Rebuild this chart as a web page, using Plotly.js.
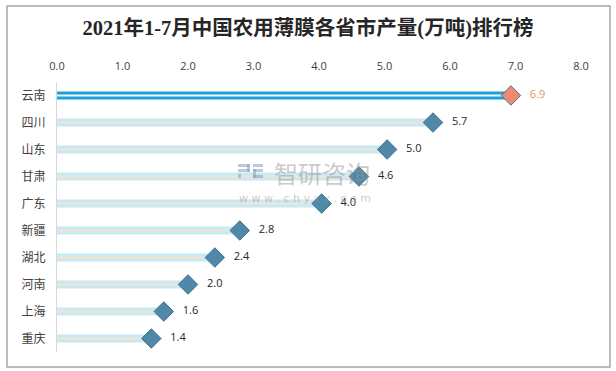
<!DOCTYPE html>
<html><head><meta charset="utf-8">
<script src="https://cdn.plot.ly/plotly-3.0.1.min.js"></script>
<style>body{margin:0;background:#fff}#c{width:616px;height:371px}</style>
</head><body><div id="c"></div>
<script>
const provinces = ["云南","四川","山东","甘肃","广东","新疆","湖北","河南","上海","重庆"];
const output = [6.93, 5.74, 5.04, 4.61, 4.04, 2.79, 2.41, 2.0, 1.63, 1.44];
const xTicks = [0,1,2,3,4,5,6,7,8];
const xTickText = xTicks.map(v => v.toFixed(1));

const bandColors = provinces.map((p,i) => i === 0 ? "#1ba1dc" : "#c6e9f8");
const centerColors = provinces.map((p,i) => i === 0 ? "#f4f8fb" : "#fbe3c6");
const markerColors = provinces.map((p,i) => i === 0 ? "#f0896f" : "#4f89a7");
const labelColors = provinces.map((p,i) => i === 0 ? "#f0896f" : "#262626");

const traces = [
  {type:"bar", orientation:"h", y:provinces, x:output, width:0.29,
   marker:{color:bandColors, line:{width:0}}, hoverinfo:"skip", showlegend:false},
  {type:"bar", orientation:"h", y:provinces, x:output, width:0.08,
   marker:{color:centerColors, line:{width:0}}, hoverinfo:"skip", showlegend:false},
  {type:"scatter", mode:"markers+text", y:provinces, x:output,
   marker:{symbol:"diamond", size:15, color:markerColors, line:{color:"#3d7391", width:1}},
   text:output.map(v => v.toFixed(1)), textposition:"middle right",
   texttemplate:"   %{text}",
   textfont:{family:"Open Sans, DejaVu Sans, sans-serif", size:11, color:labelColors},
   cliponaxis:false, showlegend:false}
];

const L = 57, R = 581, T = 82, B = 352;
const pw = R - L, ph = B - T;
const px = x => (x - L) / pw;
const py = y => (B - y) / ph;
const wm = "rgba(140,165,195,0.6)";
const box = (x0,y0,x1,y1,c) => ({type:"rect", xref:"paper", yref:"paper",
  x0:px(x0), x1:px(x1), y0:py(y1), y1:py(y0), fillcolor:c, line:{width:0}, layer:"above"});

const layout = {
  width:616, height:371,
  margin:{l:L, r:616-R, t:T, b:371-B, pad:0},
  paper_bgcolor:"#ffffff", plot_bgcolor:"#ffffff",
  barmode:"overlay",
  title:{text:"2021年1-7月中国农用薄膜各省市产量(万吨)排行榜",
    font:{family:"Liberation Serif, Noto Sans CJK SC, serif", size:20.5, color:"#262626", weight:"bold"},
    x:0.5, xref:"container", xanchor:"center", y:1 - 28/371, yref:"container", yanchor:"middle"},
  xaxis:{side:"top", range:[0,8], tickvals:xTicks, ticktext:xTickText,
    showgrid:false, zeroline:false, showline:false, ticks:"",
    tickfont:{family:"Open Sans, DejaVu Sans, sans-serif", size:11, color:"#404040"},
    ticklabelstandoff:9, fixedrange:true},
  yaxis:{range:[9.5,-0.5], showgrid:false, zeroline:false,
    showline:true, linecolor:"#d9d9d9", linewidth:1, ticks:"",
    tickfont:{family:"Noto Sans CJK SC, sans-serif", size:12, color:"#404040"},
    ticklabelstandoff:8, fixedrange:true},
  shapes:[
    {type:"rect", xref:"paper", yref:"paper", x0:px(7), x1:px(610), y0:py(367), y1:py(6),
     line:{color:"#a6a6a6", width:1.5}, fillcolor:"rgba(0,0,0,0)", layer:"below"},
    box(238,164,250,167,wm), box(247,164,250,172,wm), box(238,169,250,172,wm), box(238,174,241,178,wm),
    box(253,164,263,167,wm), box(253,169,263,172,wm), box(253,169,256,178,wm), box(253,175,263,178,wm)
  ],
  annotations:[
    {xref:"paper", yref:"paper", x:px(322), y:py(172), text:"智研咨询", showarrow:false,
     font:{family:"Noto Sans CJK SC, sans-serif", size:24, color:"rgba(150,150,150,0.5)"}},
    {xref:"paper", yref:"paper", x:px(305), y:py(198), text:"w w w . c h y x x . c o m", showarrow:false,
     font:{family:"DejaVu Sans, sans-serif", size:11, color:"rgba(150,150,150,0.5)"}}
  ]
};

Plotly.newPlot("c", traces, layout, {staticPlot:true, displayModeBar:false});
</script></body></html>
